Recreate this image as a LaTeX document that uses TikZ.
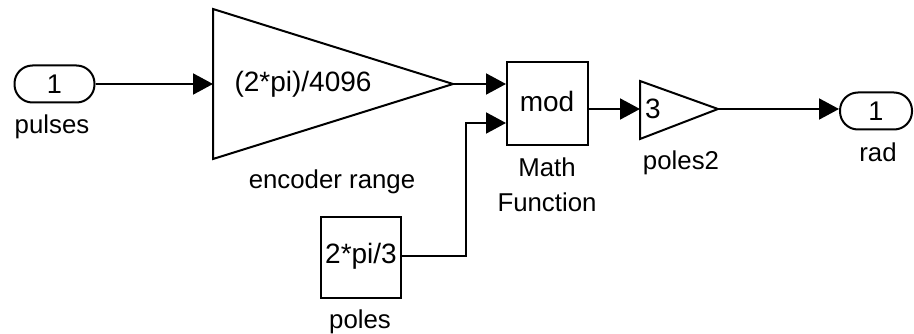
\documentclass[tikz,border=0pt]{standalone}
\usepackage{fontspec}
\setmainfont{Liberation Sans}
\usetikzlibrary{arrows.meta}
\begin{document}
\begin{tikzpicture}[x=1pt,y=-1pt,
  wire/.style={line width=2pt,-{Triangle[length=20pt,width=21pt]}},
  plain/.style={line width=2pt},
  blk/.style={draw,line width=2pt,inner sep=0pt},
  port/.style={draw,line width=2pt,rounded corners=18pt,minimum width=80pt,minimum height=37pt,inner sep=0pt,font=\fontsize{27}{28}\selectfont},
  lbl/.style={font=\fontsize{25.8}{35}\selectfont,inner sep=0pt,align=center},
  btxt/.style={font=\fontsize{28}{30}\selectfont,inner sep=0pt}]
\useasboundingbox (0,0) rectangle (914,334);
% inport
\node[port] (in1) at (54.5,84) {1};
\node[lbl] (in1l) at (52,127) {pulses};
% gain 1
\coordinate (g1a) at (213,9);
\coordinate (g1b) at (213,159);
\coordinate (g1out) at (453,84);
\coordinate (g1in) at (213,84);
\draw[plain,line join=miter] (g1a) -- (g1b) -- (g1out) -- cycle;
\node[btxt] (g1t) at (303,84) {(2*pi)/4096};
\node[lbl] (g1l) at (332,182) {encoder range};
% math function
\node[blk,minimum width=81pt,minimum height=83pt] (mf) at (547.5,103.5) {};
\node[btxt] (mft) at (547,101) {mod};
\node[lbl] (mfl) at (547,185) {Math\\Function};
\coordinate (mfin1) at (mf.west |- 0,84);
\coordinate (mfin2) at (mf.west |- 0,123);
\coordinate (mfout) at (mf.east |- 0,109);
% poles constant
\node[blk,minimum width=80pt,minimum height=81pt] (pc) at (361,257.5) {};
\node[btxt] (pct) at (361,256) {2*pi/3};
\node[lbl] (pcl) at (360,322) {poles};
% gain 2
\coordinate (g2a) at (640,81);
\coordinate (g2b) at (640,139);
\coordinate (g2out) at (718,109);
\coordinate (g2in) at (640,109);
\draw[plain,line join=miter] (g2a) -- (g2b) -- (g2out) -- cycle;
\node[btxt] (g2t) at (653,109) {3};
\node[lbl] (g2l) at (681,163) {poles2};
% outport
\node[port,minimum width=72pt] (out1) at (876,111) {1};
\node[lbl] (out1l) at (878,152) {rad};
% connectors
\draw[wire] (in1.east) -- (g1in);
\draw[wire] (g1out) -- (mfin1);
\draw[wire] (pc.east |- 0,256) -| (466,123) -- (mfin2);
\draw[wire] (mfout) -- (g2in);
\draw[wire] (g2out) -- (out1.west |- 0,109);
\end{tikzpicture}
\end{document}
